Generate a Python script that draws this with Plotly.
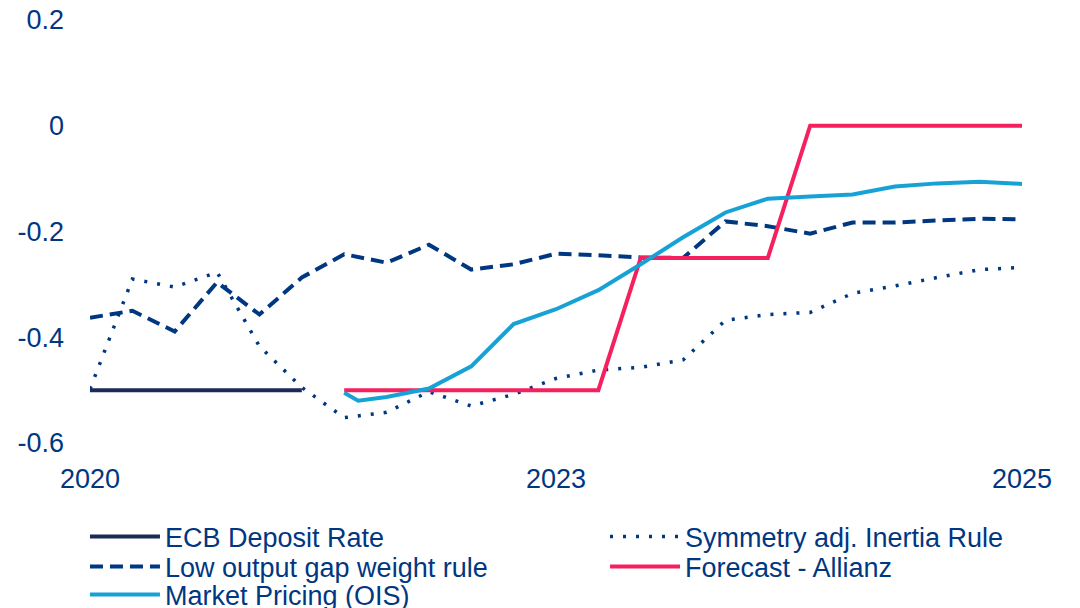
import plotly.graph_objects as go

# Quarter index positions (0 = first quarter shown in 2020, 22 = last in 2025)
x_quarters = list(range(23))
tick_positions = [0, 11, 22]
tick_labels = ["2020", "2023", "2025"]

ecb_x = [0, 1, 2, 3, 4, 5]
ecb_rate = [-0.5, -0.5, -0.5, -0.5, -0.5, -0.5]

symmetry_rule = [-0.498, -0.29, -0.305, -0.277, -0.417, -0.495, -0.552, -0.542,
                 -0.503, -0.53, -0.508, -0.478, -0.462, -0.457, -0.443, -0.368,
                 -0.357, -0.353, -0.317, -0.303, -0.287, -0.272, -0.268]

low_output_gap = [-0.363, -0.35, -0.389, -0.296, -0.357, -0.287, -0.243, -0.259,
                  -0.225, -0.272, -0.262, -0.242, -0.245, -0.249, -0.25, -0.181,
                  -0.19, -0.204, -0.183, -0.183, -0.179, -0.176, -0.177]

forecast_x = list(range(6, 23))
forecast_allianz = [-0.5, -0.5, -0.5, -0.5, -0.5, -0.5, -0.5, -0.25, -0.25, -0.25,
                    -0.25, 0.0, 0.0, 0.0, 0.0, 0.0, 0.0]

ois_x = [6, 6.33, 7, 8, 9, 10, 11, 12, 13, 14, 15, 16, 17, 18, 19, 20, 21, 22]
ois_pricing = [-0.505, -0.52, -0.513, -0.497, -0.455, -0.375, -0.347, -0.311,
               -0.262, -0.211, -0.164, -0.138, -0.134, -0.130, -0.115, -0.109,
               -0.106, -0.11]

NAVY = "#003781"
TEXT = "#003781"
FONT = "Liberation Sans, Arial, sans-serif"

fig = go.Figure()
fig.add_trace(go.Scatter(x=ecb_x, y=ecb_rate, mode="lines", name="ECB Deposit Rate",
                         legend="legend",
                         line=dict(color="#1b2b55", width=4)))
fig.add_trace(go.Scatter(x=x_quarters, y=symmetry_rule, mode="lines",
                         name="Symmetry adj. Inertia Rule", legend="legend2",
                         line=dict(color=NAVY, width=3.5, dash="3px,10px")))
fig.add_trace(go.Scatter(x=x_quarters, y=low_output_gap, mode="lines",
                         name="Low output gap weight rule", legend="legend3",
                         line=dict(color=NAVY, width=4, dash="13px,7px")))
fig.add_trace(go.Scatter(x=forecast_x, y=forecast_allianz, mode="lines",
                         name="Forecast - Allianz", legend="legend4",
                         line=dict(color="#f5215e", width=4)))
fig.add_trace(go.Scatter(x=ois_x, y=ois_pricing, mode="lines",
                         name="Market Pricing (OIS)", legend="legend5",
                         line=dict(color="#17a2d6", width=4)))

legend_common = dict(orientation="h", xanchor="left", yanchor="middle",
                     itemwidth=70, bgcolor="rgba(0,0,0,0)",
                     font=dict(size=27, color=TEXT),
                     itemclick=False, itemdoubleclick=False)
col1_x, col2_x = -0.0054, 0.5526
row_y = [-0.2222, -0.2931, -0.3593]

fig.update_layout(
    width=1080, height=608,
    margin=dict(l=82, r=66, t=12, b=173, autoexpand=False),
    paper_bgcolor="white", plot_bgcolor="white",
    font=dict(family=FONT, size=27, color=TEXT),
    showlegend=True,
    legend=dict(legend_common, x=col1_x, y=row_y[0]),
    legend2=dict(legend_common, x=col2_x, y=row_y[0]),
    legend3=dict(legend_common, x=col1_x, y=row_y[1]),
    legend4=dict(legend_common, x=col2_x, y=row_y[1]),
    legend5=dict(legend_common, x=col1_x, y=row_y[2]),
    xaxis=dict(range=[0, 22], tickvals=tick_positions, ticktext=tick_labels,
               showgrid=False, zeroline=False, showline=False, ticks="",
               ticklabelstandoff=17, ticklabeloverflow="allow",
               automargin=False, fixedrange=True),
    yaxis=dict(range=[-0.6, 0.2], tickvals=[-0.6, -0.4, -0.2, 0, 0.2],
               ticktext=["-0.6", "-0.4", "-0.2", "0", "0.2"],
               showgrid=False, zeroline=False, showline=False, ticks="",
               ticklabelstandoff=25, ticklabeloverflow="allow",
               automargin=False, fixedrange=True),
)

fig.write_html("out.html")
